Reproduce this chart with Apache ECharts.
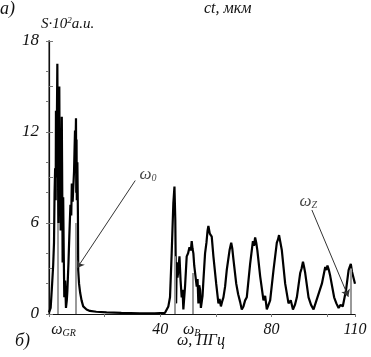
<!DOCTYPE html>
<html>
<head>
<meta charset="utf-8">
<script src="https://cdn.jsdelivr.net/npm/echarts@6/dist/echarts.min.js"></script>
<style>
html, body {margin: 0; padding: 0; background: #fff;}
#spectrumChart {width: 371px; height: 357px;}
</style>
</head>
<body>
<div id="spectrumChart"></div>
<script>
// frequency (ПГц) and S*10^2
var freq = [
    0, 0.6, 1.0, 1.5, 1.8, 2.0, 2.2, 2.4, 2.5, 2.7, 2.8, 3.0, 3.1, 3.2, 3.35, 3.5, 3.6, 3.7, 3.8, 3.9, 4.0, 4.2, 4.4,
    4.6, 4.7, 4.8, 4.9, 5.1, 5.3, 5.5,
    5.8, 6.1, 6.4, 6.6, 7.0, 7.3, 7.7, 8.0, 8.2, 8.5, 8.7, 9.0, 9.2, 9.35, 9.5, 9.7, 9.8, 9.9, 10.0, 10.2, 10.4, 10.5,
    10.8, 11.2, 11.7,
    12.3, 13.5, 14.7, 17, 20.7, 26, 32.7, 38, 41.7, 42.4, 42.9, 43.5, 44.1, 44.7, 45.1, 45.4, 45.7, 45.9, 46.2,
    46.5, 46.9, 47.3, 47.7, 48.0, 48.3, 48.9, 49.5, 50.0, 50.5, 51.0, 51.3, 51.6, 51.9, 52.2, 52.5, 53.1, 53.4,
    53.7, 54.0, 54.3, 54.6, 54.9, 55.2, 55.5, 56.1, 56.6, 57.0, 57.3, 57.8, 58.5, 59.1, 60.1, 60.9, 61.3, 61.8,
    62.2, 62.7, 63.3, 63.9, 64.9, 65.5, 65.9, 66.3, 67.3, 68.0, 68.7, 69.3, 69.9, 70.5, 71.1, 72.3, 73.3, 73.7,
    74.1, 74.5, 74.9, 75.9, 77.1, 77.7, 78.3, 78.9, 79.5, 80.7, 81.9, 82.3, 82.7, 83.2, 83.7, 84.9, 86.1, 86.9,
    87.7, 88.4, 89.1, 90.3, 90.8, 91.3, 91.7, 92.1, 93.3, 94.2, 95.1, 95.8, 96.5, 98.1, 99.3, 99.7, 100.1, 100.6,
    101.1, 102.5, 103.3, 104.1, 104.8, 105.6, 106.8, 107.7, 108.1, 108.5, 108.9, 109.2, 110
];
var signal = [
    0.1, 0.4, 1.6, 3.2, 4.7, 8.0, 9.6, 7.5, 13.4, 9.0, 12.0, 16.5, 12.5, 11.0, 6.0, 9.5, 13.5, 15.0, 11.0, 10.2, 12.2,
    5.5, 9.0, 13.0, 10.0, 7.0, 3.4, 7.7, 4.0, 1.1,
    2.2, 0.4, 0.9, 1.5, 3.4, 5.1, 7.2, 6.5, 8.6, 7.4, 8.2, 9.4, 11.0, 12.1, 10.5, 12.9, 8.0, 11.5, 7.5, 10.0, 6.5, 2.9,
    2.0, 1.4, 0.9,
    0.5, 0.3, 0.2, 0.15, 0.11, 0.07, 0.05, 0.05, 0.08, 0.2, 0.5, 1.1, 4.0, 7.3, 8.4, 6.2, 0.7, 3.4, 2.4,
    2.9, 3.8, 2.2, 1.1, 1.6, 0.3, 1.8, 3.8, 4.0, 4.4, 4.2, 4.8, 4.3, 4.0, 3.2, 3.3, 1.8, 2.3,
    0.7, 1.9, 1.6, 0.4, 0.5, 1.2, 2.2, 4.0, 4.7, 5.5, 5.8, 5.3, 5.1, 3.8, 2.0, 0.7, 1.0, 0.5,
    0.8, 1.1, 1.8, 2.9, 4.2, 4.7, 4.3, 3.6, 2.0, 1.3, 0.8, 0.3, 0.5, 0.9, 1.1, 3.3, 4.8, 4.5,
    5.05, 4.7, 4.2, 2.5, 0.9, 1.2, 0.3, 0.6, 0.9, 2.9, 4.7, 4.9, 5.2, 4.7, 4.2, 2.0, 0.7, 0.9,
    0.3, 0.6, 1.1, 2.7, 3.0, 3.45, 3.1, 2.7, 1.1, 0.6, 0.3, 0.7, 0.7, 2.0, 3.1, 2.9, 3.2, 2.9,
    2.5, 1.1, 0.7, 0.4, 0.6, 0.5, 1.6, 2.9, 3.1, 3.3, 2.8, 2.9, 2.0
];

// grey reference lines (frequency, top of line)
var refFreq = [3.3, 9.7, 45.3, 51.6, 108.4];
var refTop = [6.0, 6.0, 3.8, 2.7, 3.0];

// bottom axis labels
var xLabelValues = [5.2, 40, 51.3, 80, 110];
var xLabelTexts = ['{w|ω}{s|GR}', '40', '{w|ω}{s|B}', '80', '110'];

// arrows: label point, arrow end
var arrowNames = ['0', 'Z'];
var arrowFrom = [[31.0, 8.8], [94.5, 6.86]];
var arrowTo = [[10.1, 3.03], [107.6, 1.14]];
var arrowLabelAt = [[35.6, 9.2], [93.2, 7.4]];

var serif = 'Liberation Serif';

var chart = echarts.init(document.getElementById('spectrumChart'));

var lineData = [];
freq.forEach(function (f, i) {
    lineData.push([f, signal[i]]);
});

var refLines = [];
refFreq.forEach(function (f, i) {
    refLines.push([{coord: [f, 0]}, {coord: [f, refTop[i]]}]);
});

var arrowLines = [];
var labelPoints = [];
arrowNames.forEach(function (n, i) {
    arrowLines.push([{coord: arrowFrom[i]}, {coord: arrowTo[i]}]);
    labelPoints.push({value: arrowLabelAt[i], sub: n});
});

var option = {
    animation: false,
    backgroundColor: '#fff',
    grid: {left: 49, right: 16, top: 41, bottom: 43},
    xAxis: [
        {
            type: 'value',
            min: 0,
            max: 110,
            position: 'bottom',
            axisLine: {lineStyle: {color: '#111', width: 1.2}},
            axisTick: {show: false},
            splitLine: {show: false},
            axisLabel: {
                customValues: xLabelValues,
                margin: 8,
                color: '#111',
                fontFamily: serif,
                fontStyle: 'italic',
                fontSize: 16,
                formatter: function (v) {
                    return xLabelTexts[xLabelValues.indexOf(v)];
                },
                rich: {
                    w: {fontFamily: serif, fontStyle: 'italic', fontSize: 16, color: '#111'},
                    s: {fontFamily: serif, fontStyle: 'italic', fontSize: 10, color: '#111', verticalAlign: 'bottom', padding: [6, 0, 0, 0]}
                }
            }
        },
        {
            type: 'value',
            min: 0,
            max: 110,
            interval: 20,
            position: 'top',
            axisLine: {lineStyle: {color: '#111', width: 1.2}},
            axisTick: {inside: true, length: 3, lineStyle: {color: '#777'}},
            axisLabel: {show: false},
            splitLine: {show: false}
        }
    ],
    yAxis: [
        {
            type: 'value',
            min: 0,
            max: 18,
            interval: 3,
            position: 'left',
            axisLine: {show: true, lineStyle: {color: '#888', width: 2}},
            axisTick: {inside: true, length: 4, lineStyle: {color: '#777'}},
            splitLine: {show: false},
            axisLabel: {
                margin: 10,
                color: '#111',
                fontFamily: serif,
                fontStyle: 'italic',
                fontSize: 17,
                formatter: function (v) {
                    return v % 6 === 0 ? String(v) : '';
                }
            }
        },
        {
            type: 'value',
            min: 0,
            max: 18,
            interval: 2,
            position: 'right',
            axisLine: {show: true, lineStyle: {color: '#111', width: 1.2}},
            axisTick: {inside: true, length: 3, lineStyle: {color: '#777'}},
            axisLabel: {show: false},
            splitLine: {show: false}
        }
    ],
    series: [
        {
            name: 'ref',
            type: 'line',
            data: [],
            z: 1,
            markLine: {
                silent: true,
                symbol: ['none', 'none'],
                label: {show: false},
                lineStyle: {color: '#999', width: 2, type: 'solid'},
                data: refLines
            }
        },
        {
            name: 'S',
            type: 'line',
            data: lineData,
            z: 3,
            showSymbol: false,
            smooth: false,
            lineStyle: {color: '#000', width: 2.2},
            markLine: {
                silent: true,
                symbol: ['none', 'arrow'],
                symbolSize: 7,
                label: {show: false},
                lineStyle: {color: '#333', width: 1, type: 'solid'},
                data: arrowLines
            }
        },
        {
            name: 'labels',
            type: 'scatter',
            data: labelPoints,
            symbolSize: 2,
            itemStyle: {color: 'rgba(0,0,0,0)'},
            silent: true,
            z: 4,
            label: {
                show: true,
                position: 'inside',
                fontFamily: serif,
                fontStyle: 'italic',
                fontSize: 17,
                color: '#111',
                formatter: function (p) {
                    return '{w|ω}{s|' + p.data.sub + '}';
                },
                rich: {
                    w: {fontFamily: serif, fontStyle: 'italic', fontSize: 17, color: '#111'},
                    s: {fontFamily: serif, fontStyle: 'italic', fontSize: 10, color: '#111', verticalAlign: 'bottom', padding: [6, 0, 0, 0]}
                }
            }
        }
    ],
    graphic: [
        {type: 'text', left: 0, top: 0, style: {text: 'a)', font: 'italic 18px "Liberation Serif"', fill: '#111'}},
        {type: 'text', left: 204, top: 1, style: {text: 'ct, мкм', font: 'italic 16px "Liberation Serif"', fill: '#111'}},
        {
            type: 'text', left: 41, top: 16,
            style: {
                text: '{t|S·10}{p|2}{t|а.и.}',
                rich: {
                    t: {font: 'italic 15px "Liberation Serif"', fill: '#111'},
                    p: {font: 'italic 9px "Liberation Serif"', fill: '#111', verticalAlign: 'top', padding: [0, 0, 7, 0]}
                }
            }
        },
        {type: 'text', left: 15, top: 332, style: {text: 'б)', font: 'italic 18px "Liberation Serif"', fill: '#111'}},
        {type: 'text', left: 177, top: 333, style: {text: 'ω, ПГц', font: 'italic 16px "Liberation Serif"', fill: '#111'}}
    ]
};

chart.setOption(option);
</script>
</body>
</html>
